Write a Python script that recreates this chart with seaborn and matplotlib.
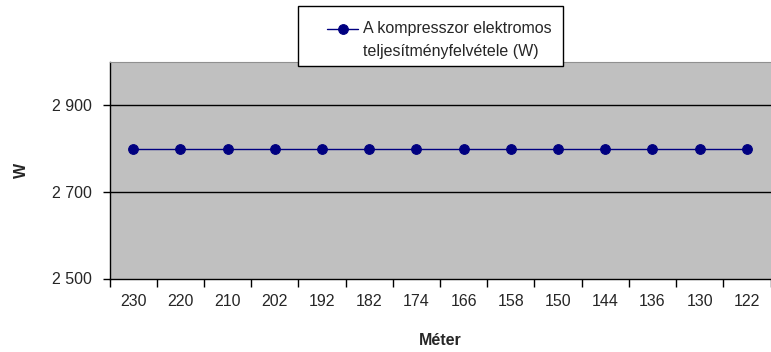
import matplotlib
matplotlib.use("Agg")
import matplotlib.pyplot as plt
import seaborn as sns
import pandas as pd
from matplotlib.ticker import FixedLocator
from matplotlib.patches import Rectangle
from matplotlib.legend_handler import HandlerLine2D

categories = ["230", "220", "210", "202", "192", "182", "174", "166", "158", "150", "144", "136", "130", "122"]
values = [2800, 2800, 2800, 2800, 2800, 2800, 2800, 2800, 2800, 2800, 2800, 2800, 2800, 2800]
series_label = "A kompresszor elektromos\nteljesítményfelvétele (W)"
y_ticks = [2500, 2700, 2900]
y_tick_labels = ["2 500", "2 700", "2 900"]
x_title = "Méter"
y_title = "W"

sns.set_style("white")
plt.rcParams['font.family'] = ['Liberation Sans', 'DejaVu Sans']

df = pd.DataFrame({"Méter": categories, "W": values})

W, H = 771, 352
fig = plt.figure(figsize=(W / 100, H / 100), dpi=100)
ax = fig.add_axes([109.5 / W, (H - 278.5) / H, (770.5 - 109.5) / W, (278.5 - 62) / H])
ax.set_facecolor("#C0C0C0")

sns.pointplot(data=df, x="Méter", y="W", order=categories, color="#000080",
              markers="o", linestyles="-", markersize=7, linewidth=1.0,
              ax=ax, label=series_label, errorbar=None)

ax.set_ylim(2500, 3000)
ax.set_xlim(-0.5, len(categories) - 0.5)
ax.set_yticks(y_ticks)
ax.set_yticklabels(y_tick_labels, fontsize=11.5)
ax.set_xticks(range(len(categories)))
ax.set_xticklabels(categories, fontsize=11.5)
ax.xaxis.set_minor_locator(FixedLocator([i - 0.5 for i in range(len(categories) + 1)]))
ax.tick_params(axis="x", which="major", length=0, pad=11)
ax.tick_params(axis="x", which="minor", length=6, width=1, color="black", direction="out", bottom=True)
ax.tick_params(axis="y", length=5, width=1, color="black", direction="out", left=True, pad=8)

for y in [2700, 2900]:
    ax.axhline(y, color="black", linewidth=1.0, zorder=0.5)

for s in ["left", "bottom"]:
    ax.spines[s].set_color("black")
    ax.spines[s].set_linewidth(1.0)
ax.spines["top"].set_visible(True)
ax.spines["top"].set_color("#909090")
ax.spines["top"].set_linewidth(0.8)
ax.spines["right"].set_visible(False)

ax.set_xlabel(x_title, fontsize=11.5, fontweight="bold")
ax.xaxis.set_label_coords((440 - 109.5) / 660.5, -(333 - 278.5) / 216.5)
ax.set_ylabel(y_title, fontsize=11.5, fontweight="bold")
ax.yaxis.set_label_coords((29 - 109.5) / 660.5, 0.5)

leg = ax.get_legend()
if leg is not None:
    leg.remove()
handles, labels = ax.get_legend_handles_labels()


class RaisedLineHandler(HandlerLine2D):
    def __init__(self, shift, **kw):
        super().__init__(**kw)
        self.shift = shift

    def create_artists(self, legend, orig_handle, xdescent, ydescent, width, height, fontsize, trans):
        arts = super().create_artists(legend, orig_handle, xdescent, ydescent, width, height, fontsize, trans)
        for a in arts:
            a.set_ydata([y + self.shift for y in a.get_ydata()])
        return arts


fig.patches.append(Rectangle((298 / W, 1 - 66 / H), (563 - 298) / W, 60 / H,
                             transform=fig.transFigure, facecolor="white",
                             edgecolor="black", linewidth=1.0, zorder=0))
lg = fig.legend(handles[:1], labels[:1], loc="upper left",
                bbox_to_anchor=(327 / W, 1 - 21 / H), bbox_transform=fig.transFigure,
                borderaxespad=0, borderpad=0, fontsize=11.5, frameon=False,
                handlelength=1.95, handletextpad=0.3,
                handler_map={handles[0]: RaisedLineHandler(shift=8.0)})
for t in lg.get_texts():
    t.set_linespacing(1.7)

fig.savefig("out.png", dpi=100, facecolor="white")
